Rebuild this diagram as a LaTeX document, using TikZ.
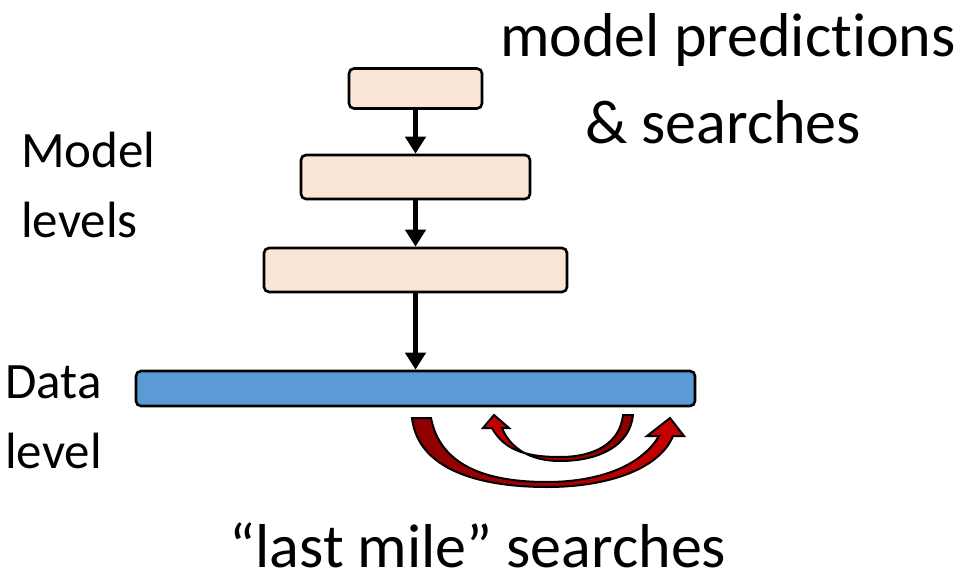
\documentclass[tikz,border=0pt]{standalone}
\usepackage{fontspec}
\setmainfont{Carlito}[Ligatures={NoCommon}]
\usetikzlibrary{arrows.meta}
\definecolor{boxfill}{HTML}{FBE5D6}
\definecolor{databar}{HTML}{5B9BD5}
\definecolor{arrowred}{HTML}{C80000}
\definecolor{arrowdark}{HTML}{8C0000}
\begin{document}
\begin{tikzpicture}[x=1pt,y=-1pt,
  levelbox/.style={draw=black, line width=2.6pt, rounded corners=5pt,
    fill=boxfill, inner sep=0pt},
  flow/.style={line width=5pt, -{Triangle[length=17pt,width=20pt]}},
  bigtext/.style={font=\fontsize{62}{70}\selectfont, inner sep=0pt,
    text depth=0pt, anchor=base},
  sidetext/.style={font=\fontsize{51}{58}\selectfont, inner sep=0pt,
    text depth=0pt, anchor=base west},
  curl/.style={draw=black, line width=2pt, line join=miter}]
\useasboundingbox (0,0) rectangle (965,577);

% stacked model levels
\node[levelbox, minimum width=133pt, minimum height=40pt] (m1) at (415.5,88.5) {};
\node[levelbox, minimum width=229pt, minimum height=44pt] (m2) at (415.5,177) {};
\node[levelbox, minimum width=303pt, minimum height=44pt] (m3) at (415.5,270) {};
\node[levelbox, fill=databar, minimum width=559pt, minimum height=35pt] (data) at (415.5,388.5) {};

\draw[flow] (m1.south) -- (m2.north);
\draw[flow] (m2.south) -- (m3.north);
\draw[flow] (m3.south) -- (data.north);

% labels
\node[bigtext] (t1) at (728,57) {model predictions};
\node[bigtext] (t2) at (723,144) {\& searches};
\node[sidetext] (s1) at (21,168) {Model};
\node[sidetext] (s2) at (21,237) {levels};
\node[sidetext] (s3) at (5,398) {Data};
\node[sidetext] (s4) at (5,468) {level};
\node[bigtext] (t3) at (478,567) {“last mile” searches};

% long curved arrow, tail at left, head at right
\path[curl, left color=arrowdark, right color=arrowred]
  (412,418) .. controls (418,470) and (480,487) .. (547,487)
  .. controls (610,487) and (660,468) .. (673,436)
  -- (684,436) -- (670,418) -- (647,436) -- (659,436)
  .. controls (640,468) and (595,482) .. (547,482)
  .. controls (485,482) and (440,465) .. (431,418) -- cycle;

% short curved arrow, tail at right, head at left
\path[curl, left color=arrowred, right color=arrowdark]
  (633,415) .. controls (630,445) and (600,461) .. (560,461)
  .. controls (530,461) and (510,448) .. (502,428)
  -- (509,428) -- (494,415) -- (483,428) -- (492,428)
  .. controls (505,452) and (530,457) .. (560,457)
  .. controls (595,457) and (620,443) .. (623,415) -- cycle;
\end{tikzpicture}
\end{document}
